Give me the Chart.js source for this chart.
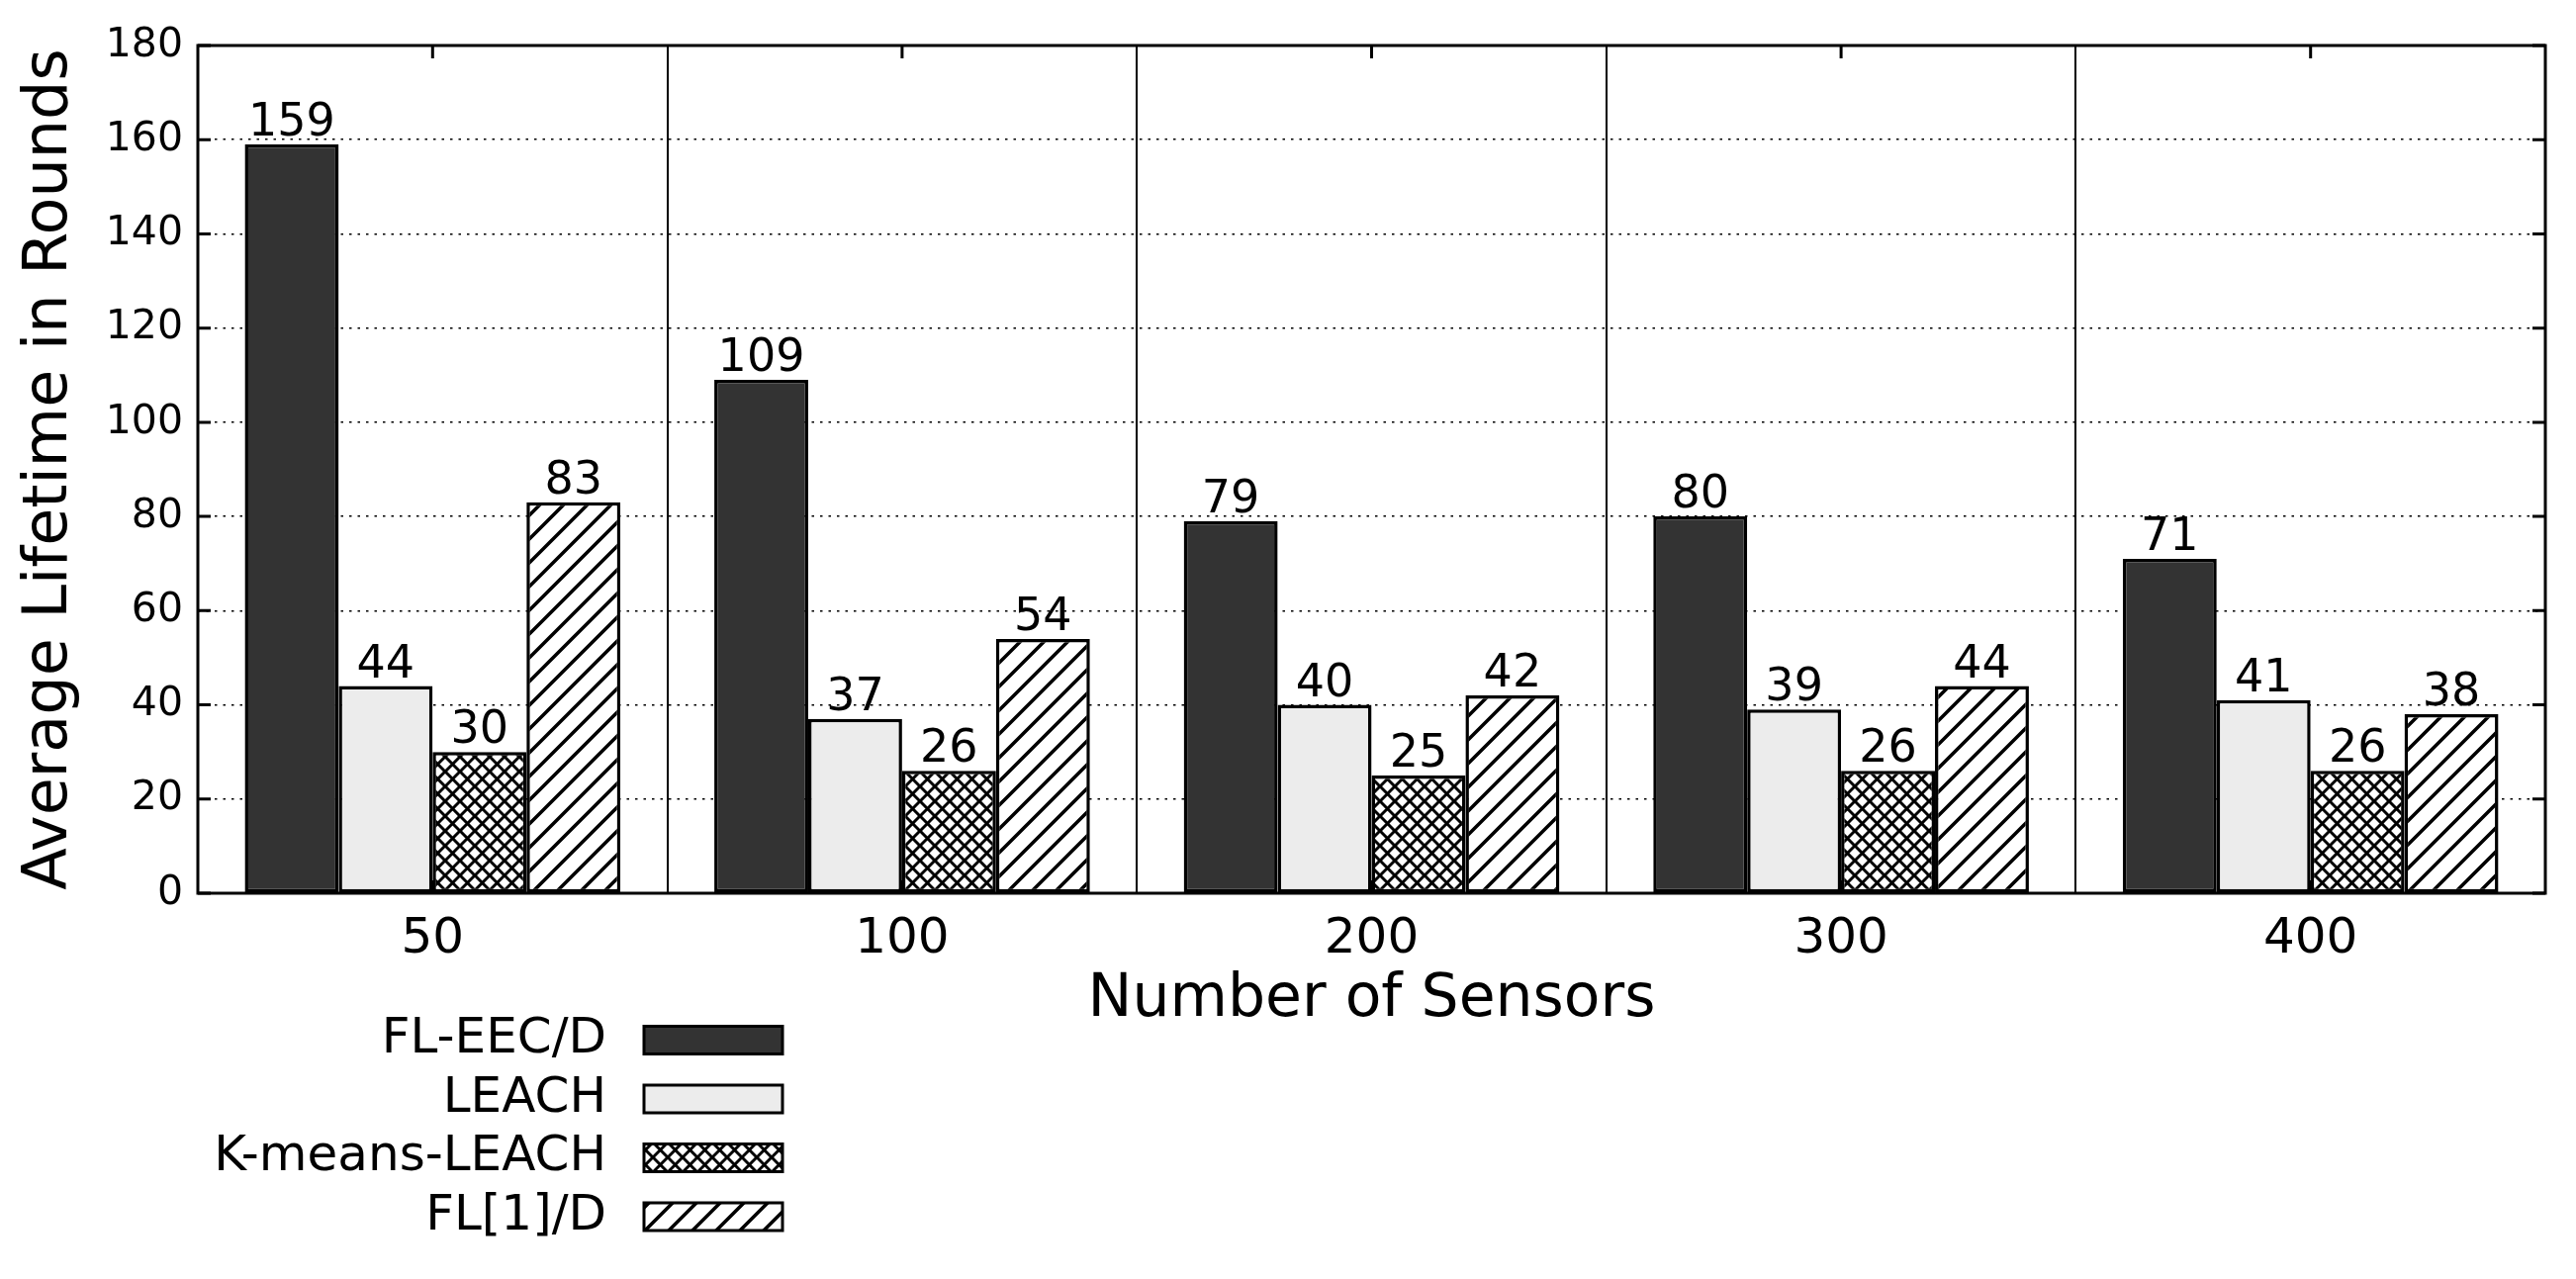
<!DOCTYPE html>
<html lang="en">
<head>
  <meta charset="UTF-8">
  <title>Average Lifetime in Rounds</title>
  <script src="https://cdn.jsdelivr.net/npm/chart.js"></script>
  <style>
    html, body { margin: 0; padding: 0; background: #fff; overflow: hidden; }
    .wrap { width: 2604px; height: 1293px; position: relative; }
  </style>
</head>
<body>

<div class="wrap">
  <canvas id="lifetimeChart"></canvas>
</div>

<script>
const sensorCounts = ['50', '100', '200', '300', '400'];
const seriesNames = ['FL-EEC/D', 'LEACH', 'K-means-LEACH', 'FL[1]/D'];
const flEecD = [159, 109, 79, 80, 71];
const leach = [44, 37, 40, 39, 41];
const kmeansLeach = [30, 26, 25, 26, 26];
const fl1D = [83, 54, 42, 44, 38];
const yTicks = [0, 20, 40, 60, 80, 100, 120, 140, 160, 180];

const FONT = "'DejaVu Sans', 'Liberation Sans', sans-serif";

// hatch fills, like matplotlib's '/' and 'x'
function diagonalHatch(size, width) {
  const c = document.createElement('canvas');
  c.width = size; c.height = size;
  const g = c.getContext('2d');
  g.fillStyle = '#fff';
  g.fillRect(0, 0, size, size);
  g.strokeStyle = '#000';
  g.lineWidth = width;
  g.beginPath();
  g.moveTo(0, size); g.lineTo(size, 0);
  g.moveTo(-2, 2); g.lineTo(2, -2);
  g.moveTo(size - 2, size + 2); g.lineTo(size + 2, size - 2);
  g.stroke();
  return g.createPattern(c, 'repeat');
}

function crossHatch(size, width) {
  const c = document.createElement('canvas');
  c.width = size; c.height = size;
  const g = c.getContext('2d');
  g.fillStyle = '#fff';
  g.fillRect(0, 0, size, size);
  g.strokeStyle = '#000';
  g.lineWidth = width;
  g.beginPath();
  g.moveTo(0, size); g.lineTo(size, 0);
  g.moveTo(-2, 2); g.lineTo(2, -2);
  g.moveTo(size - 2, size + 2); g.lineTo(size + 2, size - 2);
  g.moveTo(0, 0); g.lineTo(size, size);
  g.moveTo(size - 2, -2); g.lineTo(size + 2, 2);
  g.moveTo(-2, size - 2); g.lineTo(2, size + 2);
  g.stroke();
  return g.createPattern(c, 'repeat');
}

const fills = ['#333333', '#ececec', crossHatch(15, 3), diagonalHatch(24, 3.5)];
const seriesValues = [flEecD, leach, kmeansLeach, fl1D];

// frame, inside ticks, value labels and the legend below the axes
const decorations = {
  id: 'decorations',
  afterDatasetsDraw(chart) {
    const ctx = chart.ctx;
    ctx.save();
    ctx.fillStyle = '#000';
    ctx.font = '46px ' + FONT;
    ctx.textAlign = 'center';
    ctx.textBaseline = 'alphabetic';
    chart.data.datasets.forEach((ds, i) => {
      chart.getDatasetMeta(i).data.forEach((bar, j) => {
        ctx.fillText(String(ds.data[j]), bar.x, bar.y - 9);
      });
    });
    ctx.restore();
  },
  afterDraw(chart) {
    const ctx = chart.ctx;
    const a = chart.chartArea;
    const x = chart.scales.x, y = chart.scales.y;
    ctx.save();
    ctx.strokeStyle = '#000';
    ctx.lineWidth = 3;
    ctx.beginPath();
    y.ticks.forEach(t => {
      const py = y.getPixelForValue(t.value);
      ctx.moveTo(a.left, py); ctx.lineTo(a.left + 13, py);
      ctx.moveTo(a.right, py); ctx.lineTo(a.right - 13, py);
    });
    x.ticks.forEach((t, i) => {
      const px = x.getPixelForTick(i);
      ctx.moveTo(px, a.top); ctx.lineTo(px, a.top + 13);
      ctx.moveTo(px, a.bottom); ctx.lineTo(px, a.bottom - 13);
    });
    ctx.stroke();
    ctx.strokeRect(a.left, a.top, a.right - a.left, a.bottom - a.top);

    // legend
    const rowY = [1051.5, 1111, 1170.5, 1230];
    ctx.font = '50px ' + FONT;
    ctx.textAlign = 'right';
    ctx.textBaseline = 'middle';
    ctx.lineWidth = 3;
    chart.data.datasets.forEach((ds, i) => {
      const cy = rowY[i];
      ctx.fillStyle = '#000';
      ctx.fillText(ds.label, 613, cy);
      ctx.fillStyle = ds.backgroundColor;
      ctx.fillRect(651, cy - 14, 140, 28);
      ctx.strokeRect(651, cy - 14, 140, 28);
    });
    ctx.restore();
  }
};

Chart.defaults.font.family = FONT;
Chart.defaults.color = '#000';

new Chart(document.getElementById('lifetimeChart'), {
  type: 'bar',
  data: {
    labels: sensorCounts,
    datasets: seriesNames.map((name, i) => ({
      label: name,
      data: seriesValues[i],
      backgroundColor: fills[i],
      borderColor: '#000',
      borderWidth: 3.5,
      borderSkipped: false,
      categoryPercentage: 0.8,
      barPercentage: 1.0
    }))
  },
  options: {
    responsive: true,
    maintainAspectRatio: false,
    devicePixelRatio: 1,
    animation: false,
    layout: { padding: { left: 0, top: 46, right: 31, bottom: 240 } },
    plugins: {
      legend: { display: false },
      tooltip: { enabled: false }
    },
    scales: {
      x: {
        offset: true,
        grid: { offset: true, color: '#000', lineWidth: 2, drawTicks: false },
        border: { display: false },
        ticks: { font: { size: 50 }, padding: 17, color: '#000' },
        title: {
          display: true,
          text: 'Number of Sensors',
          font: { size: 60 },
          padding: { top: 0, bottom: 6 }
        },
        afterFit(scale) { scale.height = 150; }
      },
      y: {
        min: 0,
        max: 180,
        afterBuildTicks(scale) { scale.ticks = yTicks.map(v => ({ value: v })); },
        grid: { color: '#000', lineWidth: 1.5, drawTicks: false },
        border: { display: false, dash: [2.5, 6] },
        ticks: { font: { size: 41 }, padding: 15, color: '#000' },
        title: {
          display: true,
          text: 'Average Lifetime in Rounds',
          font: { size: 62 },
          padding: { top: 14, bottom: 0 }
        },
        afterFit(scale) { scale.width = 200; }
      }
    }
  },
  plugins: [decorations]
});
</script>

</body>
</html>
